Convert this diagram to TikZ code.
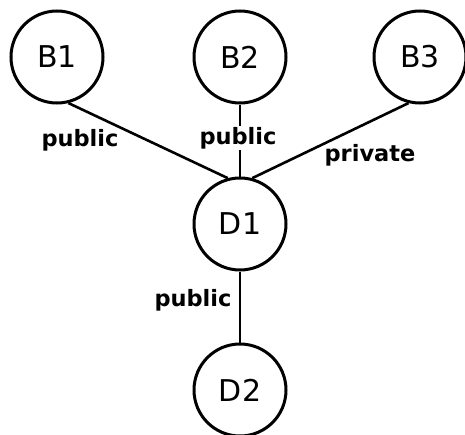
\documentclass[tikz,border=0pt]{standalone}
\usepackage{fontspec}
\setmainfont{DejaVu Sans}
\usepackage{tikz}

\begin{document}
\begin{tikzpicture}[
    x=1pt, y=-1pt,
    every node/.style={font=\fontsize{30}{30}\selectfont},
    cls/.style={draw, circle, line width=3pt, minimum size=92pt, inner sep=0pt},
    lbl/.style={font=\fontsize{22.5}{22.5}\selectfont\bfseries, inner sep=1pt},
    edge/.style={line width=2.6pt},
  ]
    \useasboundingbox (0,0) rectangle (465,434);

    % --- Base classes ---
    \node[cls] (B1) at (57,57)  {B1};
    \node[cls] (B2) at (240,57) {B2};
    \node[cls] (B3) at (420,57) {B3};

    % --- Derived classes ---
    \node[cls] (D1) at (240,224) {D1};
    \node[cls] (D2) at (240,390) {D2};

    % --- Inheritance lines ---
    \draw[edge] (B1.-76)  -- (D1.105);
    \draw[edge] (B2.south) -- (D1.north);
    \draw[edge] (B3.-104) -- (D1.75);
    \draw[edge] (D1.south) -- (D2.north);

    % --- Access labels ---
    \node[lbl]              (pub1) at (80,140)  {public};
    \node[lbl, fill=white]  (pub2) at (238,138) {public};
    \node[lbl]              (priv) at (370,155) {private};
    \node[lbl]              (pub3) at (193,300) {public};
  \end{tikzpicture}
\end{document}
